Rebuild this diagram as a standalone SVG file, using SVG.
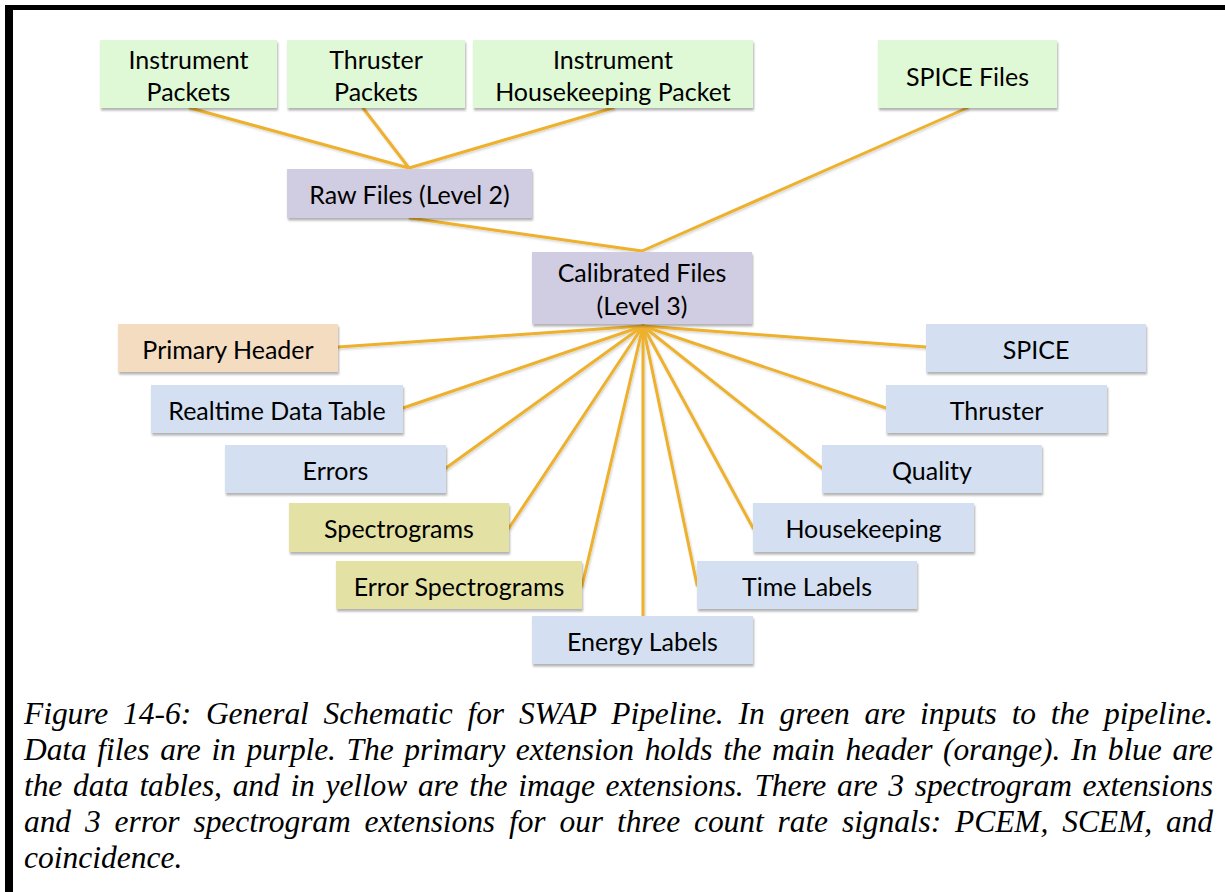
<svg xmlns="http://www.w3.org/2000/svg" width="1225" height="892" viewBox="0 0 1225 892">
<defs>
<filter id="sh" x="-10%" y="-20%" width="120%" height="150%">
<feDropShadow dx="1" dy="2.5" stdDeviation="1.2" flood-color="#000" flood-opacity="0.3"/>
</filter>
<filter id="lsh" x="-5%" y="-5%" width="110%" height="110%">
<feDropShadow dx="1" dy="1.5" stdDeviation="1" flood-color="#000" flood-opacity="0.18"/>
</filter>
</defs>
<style>
.lbl{font-family:Lato,"Open Sans","Liberation Sans",sans-serif;font-size:25px;fill:#000;text-anchor:middle}
.green{fill:#DFF9D6}
.purple{fill:#D0CCE1}
.orange{fill:#F4DCC0}
.blue{fill:#D4E0F2}
.yellow{fill:#E3E2A4}
.box{filter:url(#sh)}
.conn line{stroke:#EEB12F;stroke-width:3;stroke-linecap:round}
.cap{font-family:"Liberation Serif","Times New Roman",serif;font-style:italic;font-size:31.5px;fill:#000}
</style>
<rect x="0" y="0" width="1225" height="892" fill="#fff"/>
<rect x="5" y="5" width="1220" height="5" fill="#000"/>
<rect x="5" y="5" width="8" height="887" fill="#000"/>

<g id="connectors" class="conn" filter="url(#lsh)">
<line x1="190" y1="108" x2="409" y2="168"/>
<line x1="363" y1="108" x2="409" y2="168"/>
<line x1="613" y1="108" x2="409" y2="168"/>
<line x1="410" y1="218" x2="642" y2="251"/>
<line x1="967" y1="108" x2="642" y2="251"/>
<line x1="643" y1="326" x2="338" y2="347"/>
<line x1="643" y1="326" x2="403" y2="408"/>
<line x1="643" y1="326" x2="446" y2="468"/>
<line x1="643" y1="326" x2="509" y2="528"/>
<line x1="643" y1="326" x2="582" y2="586"/>
<line x1="643" y1="326" x2="643" y2="616"/>
<line x1="643" y1="326" x2="697" y2="585"/>
<line x1="643" y1="326" x2="753" y2="528"/>
<line x1="643" y1="326" x2="822" y2="468"/>
<line x1="643" y1="326" x2="886" y2="408"/>
<line x1="643" y1="326" x2="926" y2="347"/>
</g>

<g id="instrument-packets"><rect class="box green" x="100" y="40" width="177" height="68"/><text class="lbl" x="188.5" y="69">Instrument</text><text class="lbl" x="188.5" y="101">Packets</text></g>
<g id="thruster-packets"><rect class="box green" x="287" y="40" width="178" height="68"/><text class="lbl" x="376" y="69">Thruster</text><text class="lbl" x="376" y="101">Packets</text></g>
<g id="instrument-housekeeping-packet"><rect class="box green" x="473" y="40" width="280" height="68"/><text class="lbl" x="613" y="69">Instrument</text><text class="lbl" x="613" y="101">Housekeeping Packet</text></g>
<g id="spice-files"><rect class="box green" x="878" y="40" width="179" height="68"/><text class="lbl" x="967.5" y="86">SPICE Files</text></g>
<g id="raw-files"><rect class="box purple" x="287" y="169" width="245" height="49"/><text class="lbl" x="409.5" y="204">Raw Files (Level 2)</text></g>
<g id="calibrated-files"><rect class="box purple" x="532" y="252" width="220" height="72"/><text class="lbl" x="642" y="282">Calibrated Files</text><text class="lbl" x="642" y="315">(Level 3)</text></g>

<g id="primary-header"><rect class="box orange" x="118" y="324" width="220" height="48"/><text class="lbl" x="228" y="359">Primary Header</text></g>
<g id="realtime-data-table"><rect class="box blue" x="151" y="385" width="252" height="48"/><text class="lbl" x="277" y="420">Realtime Data Table</text></g>
<g id="errors"><rect class="box blue" x="225" y="445" width="221" height="48"/><text class="lbl" x="335.5" y="480">Errors</text></g>
<g id="spectrograms"><rect class="box yellow" x="289" y="503" width="220" height="49"/><text class="lbl" x="399" y="538">Spectrograms</text></g>
<g id="error-spectrograms"><rect class="box yellow" x="336" y="561" width="246" height="48"/><text class="lbl" x="459" y="596">Error Spectrograms</text></g>
<g id="energy-labels"><rect class="box blue" x="532" y="616" width="221" height="48"/><text class="lbl" x="642.5" y="651">Energy Labels</text></g>
<g id="time-labels"><rect class="box blue" x="697" y="561" width="220" height="48"/><text class="lbl" x="807" y="596">Time Labels</text></g>
<g id="housekeeping"><rect class="box blue" x="753" y="503" width="221" height="49"/><text class="lbl" x="863.5" y="538">Housekeeping</text></g>
<g id="quality"><rect class="box blue" x="822" y="445" width="220" height="48"/><text class="lbl" x="932" y="480">Quality</text></g>
<g id="thruster"><rect class="box blue" x="886" y="385" width="221" height="48"/><text class="lbl" x="996.5" y="420">Thruster</text></g>
<g id="spice"><rect class="box blue" x="926" y="324" width="220" height="48"/><text class="lbl" x="1036" y="359">SPICE</text></g>

<g id="caption">
<text class="cap" x="24" y="724" word-spacing="7" textLength="1189" lengthAdjust="spacing">Figure 14-6: General Schematic for SWAP Pipeline. In green are inputs to the pipeline.</text>
<text class="cap" x="24" y="760" word-spacing="3" textLength="1189" lengthAdjust="spacing">Data files are in purple. The primary extension holds the main header (orange). In blue are</text>
<text class="cap" x="24" y="796" word-spacing="3" textLength="1189" lengthAdjust="spacing">the data tables, and in yellow are the image extensions. There are 3 spectrogram extensions</text>
<text class="cap" x="24" y="832" word-spacing="6.2" textLength="1189" lengthAdjust="spacing">and 3 error spectrogram extensions for our three count rate signals: PCEM, SCEM, and</text>
<text class="cap" x="24" y="868">coincidence.</text>
</g>
</svg>
